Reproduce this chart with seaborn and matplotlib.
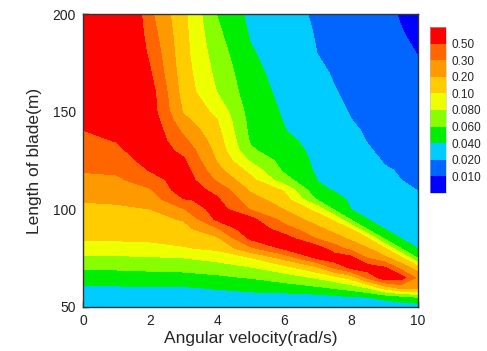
import numpy as np
import matplotlib
matplotlib.use("Agg")
import matplotlib.pyplot as plt
import seaborn as sns

sns.set_style("ticks")
plt.rcParams["font.family"] = ["Liberation Sans", "DejaVu Sans"]

# sampling grid
omega = [0, 1, 2, 3, 4, 5, 6, 7, 7.5, 8, 8.5, 9, 9.5, 10]          # rad/s
blade = [50, 55, 60, 65, 70, 75, 80, 85, 90, 95, 100, 105, 110, 115,
         120, 125, 130, 135, 140, 145, 150, 160, 170, 180, 190, 200]  # m

# estimated field value, one row per blade length (bottom to top)
field = [
    [.028, .028, .028, .028, .028, .028, .028, .026, .026, .026, .028, .028, .028, .028],
    [.034, .034, .034, .034, .034, .034, .032, .032, .035, .038, .0396, .045, .0514, .060],
    [.038, .038, .0394, .039, .0414, .045, .050, .0574, .0628, .070, .0822, .150, .243, .240],
    [.0502, .0502, .0518, .052, .0558, .061, .070, .0824, .0914, .133, .334, .620, .590, .270],
    [.0626, .0626, .064, .0658, .070, .078, .0912, .175, .316, .530, .610, .530, .265, .150],
    [.0758, .076, .0774, .0796, .086, .098, .225, .520, .620, .570, .295, .230, .125, .0596],
    [.0914, .0916, .0934, .0982, .118, .275, .530, .592, .390, .267, .205, .112, .059, .0396],
    [.111, .112, .117, .132, .176, .530, .600, .293, .242, .183, .112, .0582, .0398, .0364],
    [.135, .137, .144, .168, .286, .660, .386, .221, .167, .0998, .0574, .0398, .0366, .0328],
    [.158, .161, .172, .208, .540, .560, .259, .153, .096, .0566, .0398, .0368, .0334, .0292],
    [.181, .185, .199, .292, .600, .294, .199, .0934, .0575, .0398, .0374, .0338, .030, .0258],
    [.207, .214, .245, .490, .530, .239, .147, .058, .045, .0378, .0348, .0306, .0266, .0222],
    [.241, .248, .291, .620, .440, .184, .0976, .043, .039, .0358, .032, .0274, .0234, .0198],
    [.276, .283, .394, .620, .285, .132, .068, .0396, .037, .0336, .0294, .0242, .020, .019],
    [.314, .330, .510, .590, .233, .0934, .0568, .037, .0352, .0314, .0268, .0212, .0195, .0183],
    [.360, .388, .580, .530, .192, .0774, .0528, .036, .0334, .0294, .024, .0195, .0187, .0176],
    [.406, .448, .640, .446, .171, .063, .0488, .0348, .0316, .0272, .0214, .0185, .018, .0169],
    [.454, .506, .650, .354, .150, .058, .0448, .0334, .0298, .0252, .0197, .0177, .0173, .0161],
    [.496, .540, .660, .281, .128, .055, .0408, .032, .028, .023, .019, .017, .0166, .0154],
    [.534, .580, .640, .234, .107, .0536, .0394, .0306, .0262, .0205, .0185, .0165, .016, .0147],
    [.566, .620, .610, .190, .0948, .052, .038, .029, .0244, .0195, .018, .016, .0153, .014],
    [.634, .700, .596, .160, .0798, .049, .035, .026, .0208, .0185, .017, .015, .0139, .0126],
    [.700, .760, .520, .145, .0748, .046, .032, .023, .0193, .0175, .016, .014, .0125, .0111],
    [.734, .860, .460, .135, .0696, .042, .030, .0199, .0187, .0165, .015, .013, .0114, .0098],
    [.766, .920, .400, .130, .0644, .038, .028, .0194, .018, .0158, .014, .012, .0103, .0087],
    [.800, .980, .340, .123, .0594, .035, .026, .0188, .017, .0151, .0132, .0113, .0095, .0076],
]

levels = [0.010, 0.020, 0.040, 0.060, 0.080, 0.10, 0.20, 0.30, 0.50]
level_labels = ["0.010", "0.020", "0.040", "0.060", "0.080",
                "0.10", "0.20", "0.30", "0.50"]
band_colors = ["#0000FF", "#0066FF", "#00CCFF", "#00EE00", "#88FF00",
               "#EEFF00", "#FFCC00", "#FF9900", "#FF6600", "#FF0000"]

# contour in band space so every colour step gets equal room between samples
edges = [0.0] + levels + [0.7, 0.9, 1.1]
Z = np.interp(np.array(field), edges, np.arange(len(edges)))
bounds = list(range(10)) + [len(edges) - 1]

fig = plt.figure(figsize=(4.87, 3.51), dpi=100)
ax = fig.add_axes([83 / 487, 44 / 351, 335 / 487, 293 / 351])
cax = fig.add_axes([430 / 487, 158 / 351, 16 / 487, 166 / 351])

cs = ax.contourf(omega, blade, Z, levels=bounds, colors=band_colors)

ax.set_xlim(0, 10)
ax.set_ylim(50, 200)
ax.set_xticks([0, 2, 4, 6, 8, 10])
ax.set_yticks([50, 100, 150, 200])
ax.tick_params(direction="in", length=4, width=1, labelsize=10, pad=5,
               colors="#222222")
for s in ax.spines.values():
    s.set_linewidth(1)
    s.set_color("#333333")
ax.set_xlabel("Angular velocity(rad/s)", fontsize=12.5, labelpad=2)
ax.set_ylabel("Length of blade(m)", fontsize=12.5, labelpad=8)

cbar = fig.colorbar(cs, cax=cax, spacing="uniform", ticks=list(range(1, 10)))
cbar.ax.set_yticklabels(level_labels)
cbar.ax.tick_params(length=0, labelsize=8.5, pad=4)
cbar.outline.set_linewidth(0.4)
cbar.outline.set_edgecolor("#bbbbbb")

fig.savefig("out.png", dpi=100)
